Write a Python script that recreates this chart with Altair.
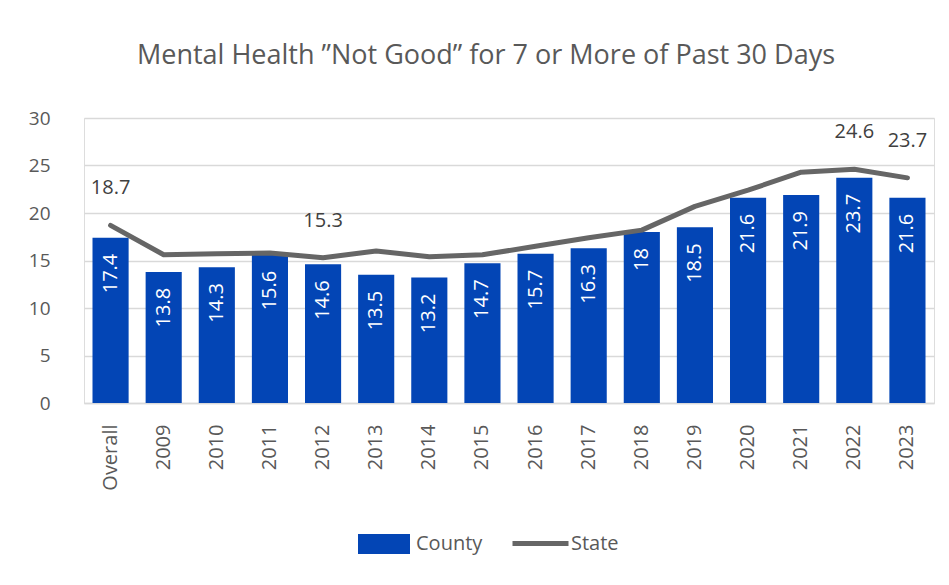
import altair as alt
import pandas as pd

categories = ["Overall", "2009", "2010", "2011", "2012", "2013", "2014", "2015",
              "2016", "2017", "2018", "2019", "2020", "2021", "2022", "2023"]
county = [17.4, 13.8, 14.3, 15.6, 14.6, 13.5, 13.2, 14.7, 15.7, 16.3, 18, 18.5, 21.6, 21.9, 23.7, 21.6]
state = [18.7, 15.6, 15.7, 15.8, 15.3, 16.0, 15.4, 15.6, 16.5, 17.4, 18.2, 20.7, 22.4, 24.3, 24.6, 23.7]
state_labels = ["18.7", "", "", "", "15.3", "", "", "", "", "", "", "", "", "", "24.6", "23.7"]

df = pd.DataFrame({
    "cat": categories,
    "county": county,
    "state": state,
    "state_label": state_labels,
    "county_label": [f"{v:g}" for v in county],
    "County": ["County"] * len(categories),
    "State": ["State"] * len(categories),
})

FONT = "Open Sans"
GREY = "#595959"
BLUE = "#0345B5"
LINE = "#666666"

x = alt.X("cat:N", sort=categories, title=None,
          scale=alt.Scale(paddingInner=0.32, paddingOuter=0.16),
          axis=alt.Axis(labelAngle=-90, labelFontSize=20, labelColor=GREY, labelFont=FONT,
                        labelPadding=21, ticks=False, domainColor="#d9d9d9", domainWidth=1.5,
                        labelBaseline="middle", labelAlign="right"))

base = alt.Chart(df)

bars = base.mark_bar(color=BLUE).encode(
    x=x,
    y=alt.Y("county:Q", title=None,
            scale=alt.Scale(domain=[0, 30]),
            axis=alt.Axis(values=[0, 5, 10, 15, 20, 25, 30], labelFontSize=19, labelColor=GREY,
                          labelFont=FONT, labelPadding=34, ticks=False, domain=False,
                          gridColor="#d9d9d9", gridWidth=1.5)),
    fill=alt.Fill("County:N", title=None,
                  scale=alt.Scale(domain=["County"], range=[BLUE]),
                  legend=alt.Legend(orient="none", legendX=274, legendY=400,
                                    symbolType="M-1,-0.38H1V0.38H-1Z", symbolSize=2704,
                                    symbolStrokeWidth=0, labelFontSize=20, labelColor=GREY,
                                    labelFont=FONT, labelOffset=6, padding=0)),
)

bar_text = base.mark_text(angle=270, align="right", baseline="middle", dx=-16,
                          color="white", fontSize=20, font=FONT).encode(
    x=alt.X("cat:N", sort=categories),
    y=alt.Y("county:Q"),
    text="county_label:N",
)

line = base.mark_line(strokeWidth=5, strokeCap="round", strokeJoin="round").encode(
    x=alt.X("cat:N", sort=categories),
    y=alt.Y("state:Q"),
    stroke=alt.Stroke("State:N", title=None,
                      scale=alt.Scale(domain=["State"], range=[LINE]),
                      legend=alt.Legend(orient="none", legendX=426, legendY=395,
                                        symbolType="stroke", symbolSize=3136,
                                        symbolStrokeWidth=5, labelFontSize=20,
                                        labelColor=GREY, labelFont=FONT, labelOffset=0,
                                        padding=0)),
)

line_text = base.mark_text(baseline="middle", dy=-37, color="#404040", fontSize=20, font=FONT).encode(
    x=alt.X("cat:N", sort=categories),
    y=alt.Y("state:Q"),
    text="state_label:N",
)

chart = alt.layer(bars, bar_text, line, line_text).properties(
    width=850,
    height=285,
    padding={"left": 20, "top": 34, "right": 5, "bottom": 5},
    title=alt.TitleParams('Mental Health ”Not Good” for 7 or More of Past 30 Days',
                          fontSize=27, color=GREY, font=FONT, fontWeight="normal",
                          anchor="middle", dx=-23, offset=39),
).configure_view(stroke=None).configure(background="white")

chart.save("out.html", embed_options={"renderer": "svg", "actions": False})
